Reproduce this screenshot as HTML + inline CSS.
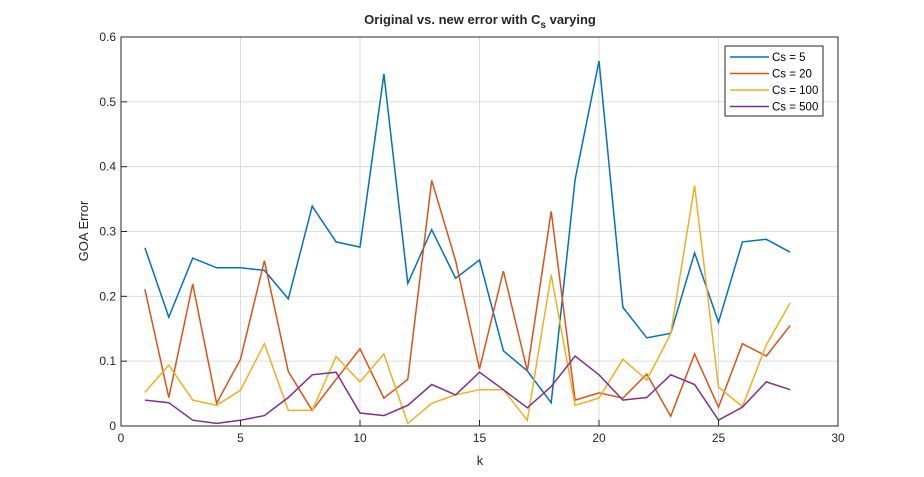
<!DOCTYPE html>
<html><head><meta charset="utf-8"><style>
body{margin:0;background:#fff;}
svg{display:block;font-family:"Liberation Sans",Arial,sans-serif;}
</style></head><body>
<svg id="chart" width="924" height="477" xmlns="http://www.w3.org/2000/svg">
<rect width="924" height="477" fill="#fff"/>
<text x="480" y="24" text-anchor="middle" font-size="13" font-weight="bold" fill="#262626">Original vs. new error with C<tspan font-size="10" dy="4">s</tspan><tspan dy="-4"> varying</tspan></text>
<g id="grid"></g>
<g id="series"></g>
<g id="axes"></g>
<text x="480" y="465" text-anchor="middle" font-size="13" fill="#262626">k</text>
<text x="0" y="0" transform="translate(88,231) rotate(-90)" text-anchor="middle" font-size="13" fill="#262626">GOA Error</text>
<g id="legend"></g>
</svg>
<script>
const kValues=[1,2,3,4,5,6,7,8,9,10,11,12,13,14,15,16,17,18,19,20,21,22,23,24,25,26,27,28];
const cs5=[0.275,0.168,0.259,0.244,0.244,0.240,0.196,0.339,0.284,0.276,0.543,0.220,0.303,0.228,0.256,0.116,0.085,0.036,0.380,0.563,0.183,0.136,0.143,0.267,0.160,0.284,0.288,0.268];
const cs20=[0.211,0.044,0.219,0.035,0.103,0.255,0.084,0.024,0.072,0.119,0.043,0.072,0.379,0.255,0.088,0.239,0.085,0.331,0.040,0.051,0.043,0.080,0.015,0.111,0.029,0.127,0.108,0.155];
const cs100=[0.052,0.094,0.040,0.032,0.055,0.127,0.024,0.024,0.107,0.068,0.111,0.004,0.035,0.048,0.056,0.056,0.009,0.233,0.032,0.043,0.103,0.071,0.142,0.371,0.060,0.030,0.125,0.190];
const cs500=[0.040,0.036,0.009,0.004,0.009,0.016,0.044,0.079,0.083,0.020,0.016,0.032,0.064,0.048,0.083,0.056,0.028,0.061,0.108,0.079,0.040,0.044,0.079,0.064,0.009,0.029,0.068,0.056];
const seriesNames=["Cs = 5","Cs = 20","Cs = 100","Cs = 500"];
const xTicks=[0,5,10,15,20,25,30];
const yTicks=[0,0.1,0.2,0.3,0.4,0.5,0.6];

const L=121,R=838,T=37,B=426;
const xs=v=>L+(v-0)/(30-0)*(R-L);
const ys=v=>B-(v-0)/(0.6-0)*(B-T);
const NS="http://www.w3.org/2000/svg";
function mk(tag,attrs,parent){const e=document.createElementNS(NS,tag);for(const k in attrs)e.setAttribute(k,attrs[k]);parent.appendChild(e);return e;}
const grid=document.getElementById('grid'),axes=document.getElementById('axes'),ser=document.getElementById('series'),leg=document.getElementById('legend');
xTicks.forEach(t=>{
 const g=mk('line',{x1:xs(t),x2:xs(t),y1:T,y2:B,stroke:'#dcdcdc','stroke-width':1},grid);
 
 
 const tk=mk('line',{x1:xs(t),x2:xs(t),y1:B,y2:B-6,stroke:'#262626'},axes);
 
 
 const tx=mk('text',{x:xs(t),y:B+16,'text-anchor':'middle','font-size':12,fill:'#262626'},axes);
 tx.textContent=t;
 
 
});
yTicks.forEach(t=>{
 const g=mk('line',{x1:L,x2:R,y1:ys(t),y2:ys(t),stroke:'#dcdcdc','stroke-width':1},grid);
 
 
 const tk=mk('line',{x1:L,x2:L+6,y1:ys(t),y2:ys(t),stroke:'#262626'},axes);
 
 
 const tx=mk('text',{x:L-5,y:ys(t)+4,'text-anchor':'end','font-size':12,fill:'#262626'},axes);
 tx.textContent=t===0?'0':t.toFixed(1);
 
 
});
const box=mk('rect',{x:L,y:T,width:R-L,height:B-T,fill:'none',stroke:'#262626','stroke-width':1},axes);


const colors=['#0072BD','#D95319','#EDB120','#7E2F8E'];
const data=[cs5,cs20,cs100,cs500];
data.forEach((arr,i)=>{
 const pts=arr.map((v,j)=>xs(kValues[j]).toFixed(1)+','+ys(v).toFixed(1)).join(' ');
 const p=mk('polyline',{points:pts,fill:'none',stroke:colors[i],'stroke-width':1.5},ser);
 
 
});
const lb=mk('rect',{x:725,y:46,width:98,height:70,fill:'#fff',stroke:'#262626','stroke-width':1},leg);


seriesNames.forEach((n,i)=>{
 const y=57+i*16.5;
 const l=mk('line',{x1:730,x2:769,y1:y,y2:y,stroke:colors[i],'stroke-width':1.5},leg);
 
 
 const t=mk('text',{x:772,y:y+4,'font-size':11.5,fill:'#000'},leg);
 t.textContent=n;
 
 
});
</script>
</body></html>
